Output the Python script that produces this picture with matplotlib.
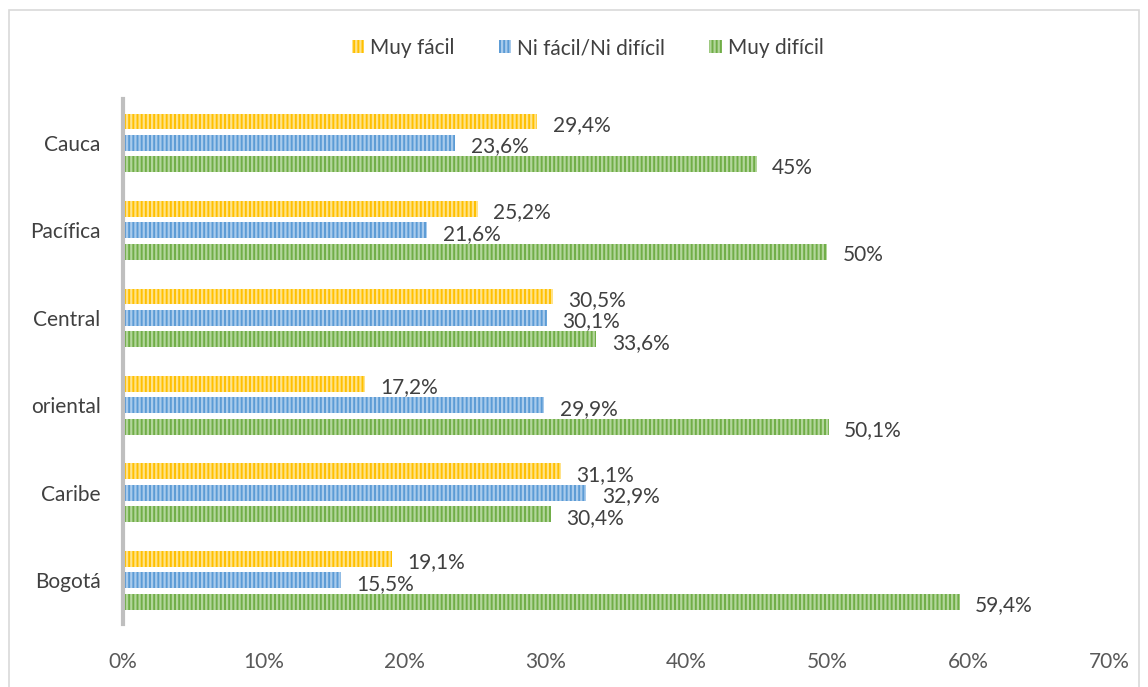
import matplotlib.pyplot as plt
import matplotlib.patches as mpatches
import numpy as np

# --- data ---
regions = ['Cauca', 'Pacífica', 'Central', 'oriental', 'Caribe', 'Bogotá']
muy_facil = [29.4, 25.2, 30.5, 17.2, 31.1, 19.1]
ni_facil = [23.6, 21.6, 30.1, 29.9, 32.9, 15.5]
muy_dificil = [45, 50, 33.6, 50.1, 30.4, 59.4]
lbl_facil = ['29,4%', '25,2%', '30,5%', '17,2%', '31,1%', '19,1%']
lbl_ni = ['23,6%', '21,6%', '30,1%', '29,9%', '32,9%', '15,5%']
lbl_dificil = ['45%', '50%', '33,6%', '50,1%', '30,4%', '59,4%']
series_names = ['Muy fácil', 'Ni fácil/Ni difícil', 'Muy difícil']

plt.rcParams['font.family'] = ['Lato', 'DejaVu Sans']
plt.rcParams['hatch.linewidth'] = 1.6

fig = plt.figure(figsize=(11.48, 6.87), dpi=100)
ax = fig.add_axes([0.107, 0.0917, 0.859, 0.764])

# outer frame
fig.patches.append(mpatches.Rectangle((0.008, -0.01), 0.984, 0.995, transform=fig.transFigure,
                                      fill=False, edgecolor='#d9d9d9', linewidth=1.2))

n = len(regions)
ypos = np.arange(n)[::-1]  # Cauca at top
h = 0.18
off = 0.245

series = [
    (muy_facil, lbl_facil, '#FFC000', '#FFE38A', off),
    (ni_facil, lbl_ni, '#5B9BD5', '#A9CBEC', 0.0),
    (muy_dificil, lbl_dificil, '#70AD47', '#B3D69B', -off),
]

for (vals, lbls, fc, hc, dy), name in zip(series, series_names):
    bars = ax.barh(ypos + dy, vals, height=h, color=fc, edgecolor=hc, linewidth=0,
                   hatch='||||', label=name)
    for b, v, t in zip(bars, vals, lbls):
        ax.text(v + 1.1, b.get_y() + b.get_height() / 2 - 0.04, t, va='center', ha='left',
                fontsize=15, color='#404040')

ax.set_xlim(0, 70)
ax.set_ylim(-0.5, n - 0.5)
ax.set_xticks(np.arange(0, 71, 10))
ax.set_xticklabels([f'{x}%' for x in range(0, 71, 10)])
ax.set_yticks(ypos)
ax.set_yticklabels(regions)
ax.tick_params(axis='x', length=0, pad=20, labelsize=15, labelcolor='#595959')
ax.tick_params(axis='y', length=0, pad=16, labelsize=15, labelcolor='#404040')

for s in ['top', 'right', 'bottom']:
    ax.spines[s].set_visible(False)
ax.spines['left'].set_color('#BFBFBF')
ax.spines['left'].set_linewidth(3)

leg = fig.legend(loc='center', bbox_to_anchor=(0.512, 0.93), ncol=3, frameon=False,
                 fontsize=15, handlelength=0.6, handleheight=0.6, handletextpad=0.3,
                 columnspacing=2.1, labelcolor='#404040')

fig.savefig('out.png', dpi=100)
